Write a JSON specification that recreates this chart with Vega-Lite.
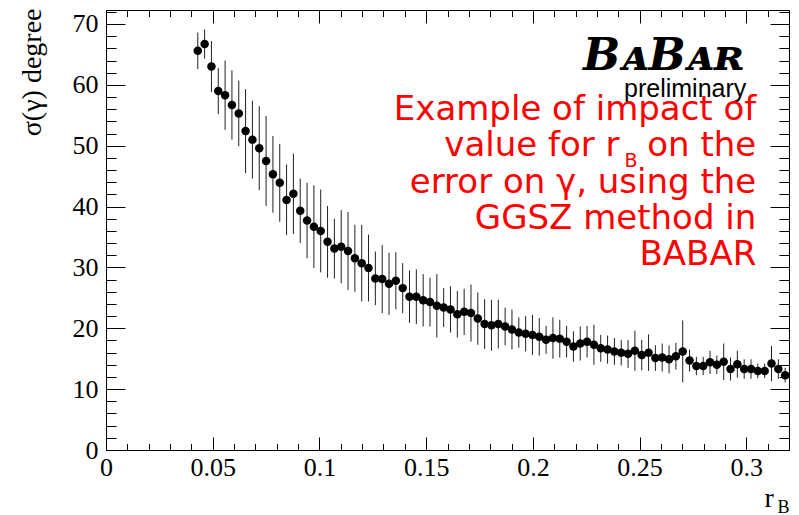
{
  "$schema": "https://vega.github.io/schema/vega-lite/v6.json",
  "width": 683,
  "height": 440,
  "autosize": {"type": "none"},
  "padding": {"left": 106, "top": 10, "right": 10, "bottom": 65},
  "background": "white",
  "config": {
    "view": {"stroke": null},
    "axis": {
      "grid": false,
      "domainColor": "black",
      "domainWidth": 1,
      "tickColor": "black",
      "tickWidth": 1,
      "labelColor": "black",
      "labelFont": "Liberation Serif",
      "labelFontSize": 26,
      "titleColor": "black",
      "titleFont": "Liberation Serif",
      "titleFontWeight": "normal",
      "labelFlush": false,
      "labelOverlap": false
    }
  },
  "data": {
    "values": [
      {"r": 0.0430, "s": 65.6, "e": 3.0},
      {"r": 0.0462, "s": 66.7, "e": 2.4},
      {"r": 0.0494, "s": 63.0, "e": 4.2},
      {"r": 0.0526, "s": 59.0, "e": 3.8},
      {"r": 0.0558, "s": 58.3, "e": 5.7},
      {"r": 0.0590, "s": 56.7, "e": 5.7},
      {"r": 0.0622, "s": 55.3, "e": 5.4},
      {"r": 0.0654, "s": 52.4, "e": 6.9},
      {"r": 0.0686, "s": 51.0, "e": 6.4},
      {"r": 0.0718, "s": 49.6, "e": 6.9},
      {"r": 0.0750, "s": 47.5, "e": 7.4},
      {"r": 0.0782, "s": 45.3, "e": 6.3},
      {"r": 0.0814, "s": 43.9, "e": 6.4},
      {"r": 0.0846, "s": 41.1, "e": 5.8},
      {"r": 0.0878, "s": 42.1, "e": 6.6},
      {"r": 0.0910, "s": 39.3, "e": 5.3},
      {"r": 0.0942, "s": 37.7, "e": 6.2},
      {"r": 0.0974, "s": 36.7, "e": 6.8},
      {"r": 0.1006, "s": 36.0, "e": 6.8},
      {"r": 0.1038, "s": 34.2, "e": 5.9},
      {"r": 0.1070, "s": 33.1, "e": 4.9},
      {"r": 0.1102, "s": 33.4, "e": 6.0},
      {"r": 0.1134, "s": 32.7, "e": 6.4},
      {"r": 0.1166, "s": 31.5, "e": 5.5},
      {"r": 0.1198, "s": 30.7, "e": 6.3},
      {"r": 0.1230, "s": 29.9, "e": 5.5},
      {"r": 0.1262, "s": 28.2, "e": 4.4},
      {"r": 0.1294, "s": 28.1, "e": 5.6},
      {"r": 0.1326, "s": 27.3, "e": 5.1},
      {"r": 0.1358, "s": 27.8, "e": 4.7},
      {"r": 0.1390, "s": 26.6, "e": 4.1},
      {"r": 0.1422, "s": 25.2, "e": 4.3},
      {"r": 0.1454, "s": 25.2, "e": 4.5},
      {"r": 0.1486, "s": 24.6, "e": 4.3},
      {"r": 0.1518, "s": 24.3, "e": 4.0},
      {"r": 0.1550, "s": 23.7, "e": 5.2},
      {"r": 0.1582, "s": 23.4, "e": 3.2},
      {"r": 0.1614, "s": 23.1, "e": 3.8},
      {"r": 0.1646, "s": 22.3, "e": 3.8},
      {"r": 0.1678, "s": 22.7, "e": 3.8},
      {"r": 0.1710, "s": 22.5, "e": 4.7},
      {"r": 0.1742, "s": 21.6, "e": 4.3},
      {"r": 0.1774, "s": 20.7, "e": 4.1},
      {"r": 0.1806, "s": 20.5, "e": 4.2},
      {"r": 0.1838, "s": 20.7, "e": 4.0},
      {"r": 0.1870, "s": 20.3, "e": 3.1},
      {"r": 0.1902, "s": 19.8, "e": 3.3},
      {"r": 0.1934, "s": 19.3, "e": 2.5},
      {"r": 0.1966, "s": 19.1, "e": 2.9},
      {"r": 0.1998, "s": 18.9, "e": 3.3},
      {"r": 0.2030, "s": 18.6, "e": 3.1},
      {"r": 0.2062, "s": 18.1, "e": 2.3},
      {"r": 0.2094, "s": 18.4, "e": 3.4},
      {"r": 0.2126, "s": 18.3, "e": 3.1},
      {"r": 0.2158, "s": 17.8, "e": 2.6},
      {"r": 0.2190, "s": 17.0, "e": 2.5},
      {"r": 0.2222, "s": 17.5, "e": 2.8},
      {"r": 0.2254, "s": 17.8, "e": 2.6},
      {"r": 0.2286, "s": 17.3, "e": 3.3},
      {"r": 0.2318, "s": 16.7, "e": 2.2},
      {"r": 0.2350, "s": 16.5, "e": 2.3},
      {"r": 0.2382, "s": 16.2, "e": 2.2},
      {"r": 0.2414, "s": 16.0, "e": 2.1},
      {"r": 0.2446, "s": 15.8, "e": 2.3},
      {"r": 0.2478, "s": 16.3, "e": 3.3},
      {"r": 0.2510, "s": 15.6, "e": 2.5},
      {"r": 0.2542, "s": 16.0, "e": 3.0},
      {"r": 0.2574, "s": 15.1, "e": 2.1},
      {"r": 0.2606, "s": 15.2, "e": 2.3},
      {"r": 0.2638, "s": 14.9, "e": 2.3},
      {"r": 0.2670, "s": 15.4, "e": 2.2},
      {"r": 0.2702, "s": 16.2, "e": 5.1},
      {"r": 0.2734, "s": 14.7, "e": 1.8},
      {"r": 0.2766, "s": 13.8, "e": 1.5},
      {"r": 0.2798, "s": 13.8, "e": 1.5},
      {"r": 0.2830, "s": 14.4, "e": 1.9},
      {"r": 0.2862, "s": 14.0, "e": 1.5},
      {"r": 0.2894, "s": 14.5, "e": 3.0},
      {"r": 0.2926, "s": 13.3, "e": 1.9},
      {"r": 0.2958, "s": 14.1, "e": 2.2},
      {"r": 0.2990, "s": 13.3, "e": 1.6},
      {"r": 0.3022, "s": 13.3, "e": 1.6},
      {"r": 0.3054, "s": 13.0, "e": 1.2},
      {"r": 0.3086, "s": 13.0, "e": 1.2},
      {"r": 0.3118, "s": 14.2, "e": 2.9},
      {"r": 0.3150, "s": 13.3, "e": 1.6},
      {"r": 0.3182, "s": 12.3, "e": 1.2}
    ]
  },
  "layer": [
    {
      "mark": {"type": "errorbar", "color": "#202020", "thickness": 1},
      "encoding": {
        "x": {"field": "r", "type": "quantitative", "scale": {"domain": [0, 0.32], "nice": false, "zero": false}, "axis": null},
        "y": {"field": "s", "type": "quantitative", "scale": {"domain": [0, 72.3], "nice": false, "zero": false}, "axis": null},
        "yError": {"field": "e"}
      }
    },
    {
      "mark": {"type": "circle", "size": 72, "color": "black", "opacity": 1},
      "encoding": {
        "x": {
          "field": "r", "type": "quantitative",
          "scale": {"domain": [0, 0.32], "nice": false, "zero": false},
          "axis": {
            "orient": "bottom",
            "values": [0, 0.05, 0.1, 0.15, 0.2, 0.25, 0.3],
            "format": "~g",
            "tickSize": -13,
            "labelPadding": 17,
            "title": "r",
            "titleFontSize": 28,
            "titleAlign": "left",
            "titleBaseline": "alphabetic",
            "titleAnchor": null,
            "titleX": 658,
            "titleY": 56
          }
        },
        "y": {
          "field": "s", "type": "quantitative",
          "scale": {"domain": [0, 72.3], "nice": false, "zero": false},
          "axis": {
            "orient": "left",
            "values": [0, 10, 20, 30, 40, 50, 60, 70],
            "format": "d",
            "tickSize": -19,
            "labelPadding": 27,
            "title": "σ(γ) degree",
            "titleFontSize": 28,
            "titleAngle": -90,
            "titleAlign": "right",
            "titleBaseline": "middle",
            "titleAnchor": null,
            "titleX": -74,
            "titleY": -2
          }
        }
      }
    },
    {
      "mark": {"type": "point", "opacity": 0},
      "encoding": {
        "x": {
          "field": "r", "type": "quantitative",
          "scale": {"domain": [0, 0.32], "nice": false, "zero": false},
          "axis": {
            "orient": "bottom",
            "values": [0, 0.01, 0.02, 0.03, 0.04, 0.05, 0.06, 0.07, 0.08, 0.09, 0.1, 0.11, 0.12, 0.13, 0.14, 0.15, 0.16, 0.17, 0.18, 0.19, 0.2, 0.21, 0.22, 0.23, 0.24, 0.25, 0.26, 0.27, 0.28, 0.29, 0.3, 0.31],
            "labels": false,
            "domain": false,
            "tickSize": -6.5,
            "title": "B",
            "titleFontSize": 18,
            "titleAlign": "left",
            "titleBaseline": "alphabetic",
            "titleAnchor": null,
            "titleX": 671,
            "titleY": 62
          }
        },
        "y": {
          "field": "s", "type": "quantitative",
          "scale": {"domain": [0, 72.3], "nice": false, "zero": false},
          "axis": {
            "orient": "left",
            "values": [0, 2, 4, 6, 8, 10, 12, 14, 16, 18, 20, 22, 24, 26, 28, 30, 32, 34, 36, 38, 40, 42, 44, 46, 48, 50, 52, 54, 56, 58, 60, 62, 64, 66, 68, 70, 72],
            "labels": false,
            "domain": false,
            "tickSize": -10,
            "title": null
          }
        }
      }
    },
    {
      "mark": {"type": "point", "opacity": 0},
      "encoding": {
        "x": {
          "field": "r", "type": "quantitative",
          "scale": {"domain": [0, 0.32], "nice": false, "zero": false},
          "axis": {
            "orient": "top",
            "values": [0, 0.05, 0.1, 0.15, 0.2, 0.25, 0.3],
            "labels": false,
            "tickSize": -13,
            "title": null
          }
        },
        "y": {
          "field": "s", "type": "quantitative",
          "scale": {"domain": [0, 72.3], "nice": false, "zero": false},
          "axis": {
            "orient": "right",
            "values": [0, 10, 20, 30, 40, 50, 60, 70],
            "labels": false,
            "tickSize": -19,
            "title": null
          }
        }
      }
    },
    {
      "mark": {"type": "point", "opacity": 0},
      "encoding": {
        "x": {
          "field": "r", "type": "quantitative",
          "scale": {"domain": [0, 0.32], "nice": false, "zero": false},
          "axis": {
            "orient": "top",
            "values": [0, 0.01, 0.02, 0.03, 0.04, 0.05, 0.06, 0.07, 0.08, 0.09, 0.1, 0.11, 0.12, 0.13, 0.14, 0.15, 0.16, 0.17, 0.18, 0.19, 0.2, 0.21, 0.22, 0.23, 0.24, 0.25, 0.26, 0.27, 0.28, 0.29, 0.3, 0.31],
            "labels": false,
            "domain": false,
            "tickSize": -6.5,
            "title": null
          }
        },
        "y": {
          "field": "s", "type": "quantitative",
          "scale": {"domain": [0, 72.3], "nice": false, "zero": false},
          "axis": {
            "orient": "right",
            "values": [0, 2, 4, 6, 8, 10, 12, 14, 16, 18, 20, 22, 24, 26, 28, 30, 32, 34, 36, 38, 40, 42, 44, 46, 48, 50, 52, 54, 56, 58, 60, 62, 64, 66, 68, 70, 72],
            "labels": false,
            "domain": false,
            "tickSize": -10,
            "title": null
          }
        }
      }
    },
    {
      "data": {"values": [{}]},
      "mark": {"type": "text", "text": "BᴀBᴀʀ", "font": "DejaVu Serif", "fontStyle": "italic", "fontWeight": "bold", "fontSize": 44, "align": "right", "baseline": "alphabetic", "color": "black"},
      "encoding": {
        "x": {"datum": 0.2991, "type": "quantitative", "axis": null},
        "y": {"datum": 62.44, "type": "quantitative", "axis": null}
      }
    },
    {
      "data": {"values": [{}]},
      "mark": {"type": "text", "text": "preliminary", "font": "Liberation Sans", "fontSize": 25, "align": "right", "baseline": "alphabetic", "color": "black"},
      "encoding": {
        "x": {"datum": 0.3, "type": "quantitative", "axis": null},
        "y": {"datum": 58.0, "type": "quantitative", "axis": null}
      }
    },
    {
      "data": {"values": [{}]},
      "mark": {
        "type": "text",
        "text": ["Example of impact of", "value for r\u2002 on the", "error on γ, using the", "GGSZ method in", "BABAR"],
        "font": "DejaVu Sans", "fontSize": 34, "lineHeight": 36.3,
        "align": "right", "baseline": "alphabetic", "color": "#ff0000"
      },
      "encoding": {
        "x": {"datum": 0.30467, "type": "quantitative", "axis": null},
        "y": {"datum": 54.22, "type": "quantitative", "axis": null}
      }
    },
    {
      "data": {"values": [{}]},
      "mark": {"type": "text", "text": "B", "font": "DejaVu Sans", "fontSize": 19, "align": "left", "baseline": "alphabetic", "color": "#ff0000"},
      "encoding": {
        "x": {"datum": 0.2429, "type": "quantitative", "axis": null},
        "y": {"datum": 46.5, "type": "quantitative", "axis": null}
      }
    }
  ],
  "resolve": {"axis": {"x": "independent", "y": "independent"}}
}
